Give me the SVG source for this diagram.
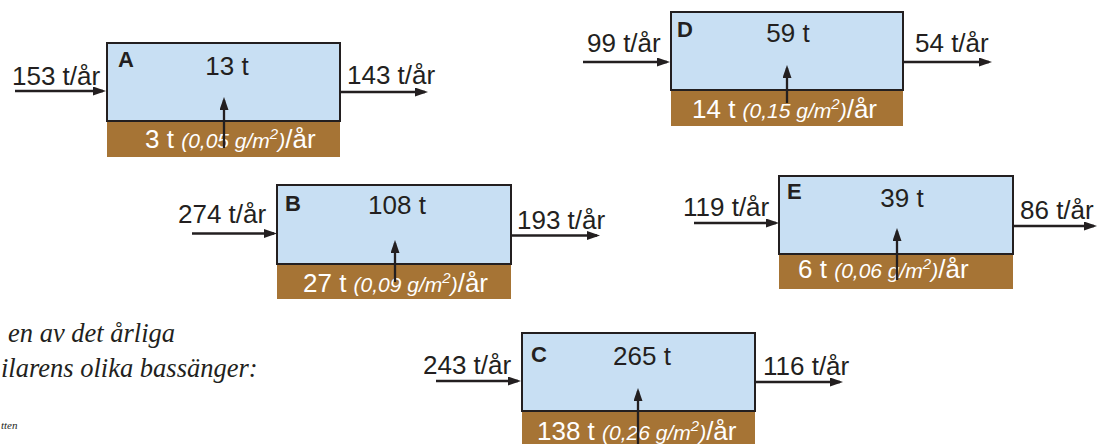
<svg xmlns="http://www.w3.org/2000/svg" width="1097" height="444" viewBox="0 0 1097 444">
<style>
.water{fill:#c8dff3;stroke:#231f20;stroke-width:2}
.sed{fill:#a67435}
.lbl{font-family:"Liberation Sans",Arial,sans-serif;font-size:26px;fill:#231f20}
.id{font-family:"Liberation Sans",Arial,sans-serif;font-size:22px;font-weight:bold;fill:#231f20}
.st{font-family:"Liberation Sans",Arial,sans-serif;font-size:26px;fill:#ffffff}
.it{font-style:italic;font-size:21px}
.sup{font-style:italic;font-size:15px}
.conn line{stroke:#231f20;stroke-width:2.3;marker-end:url(#ah)}
.cap{font-family:"Liberation Serif","Times New Roman",serif;font-style:italic;fill:#231f20}
</style>
<defs>
<marker id="ah" markerUnits="userSpaceOnUse" markerWidth="14" markerHeight="10" refX="10" refY="4.5" orient="auto">
<path d="M0,0 L13,4.5 L0,9 z" fill="#231f20"/>
</marker>
</defs>
<rect width="1097" height="444" fill="#ffffff"/>

<g id="caption">
<text class="cap" x="8" y="342" font-size="26.5">en av det årliga</text>
<text class="cap" x="1" y="377" font-size="26.5">ilarens olika bassänger:</text>
<text class="cap" x="1" y="429" font-size="11">tten</text>
</g>

<g id="nodeA">
<rect class="sed" x="107" y="121" width="233" height="36"/>
<rect class="water" x="107" y="43" width="233" height="78"/>
<text class="id" x="118" y="67">A</text>
<text class="lbl" x="227" y="75" text-anchor="middle">13 t</text>
<text class="lbl" x="12" y="85">153 t/år</text>
<text class="lbl" x="347" y="84">143 t/år</text>
<text class="st" x="145" y="148">3 t <tspan class="it">(0,05 g/m</tspan><tspan class="sup" dy="-9">2</tspan><tspan class="it" dy="9">)</tspan>/år</text>
</g>

<g id="nodeB">
<rect class="sed" x="277" y="264" width="234" height="35"/>
<rect class="water" x="277" y="185" width="234" height="79"/>
<text class="id" x="285" y="211">B</text>
<text class="lbl" x="397" y="214" text-anchor="middle">108 t</text>
<text class="lbl" x="178" y="223">274 t/år</text>
<text class="lbl" x="517" y="229">193 t/år</text>
<text class="st" x="303" y="292">27 t <tspan class="it">(0,09 g/m</tspan><tspan class="sup" dy="-9">2</tspan><tspan class="it" dy="9">)</tspan>/år</text>
</g>

<g id="nodeC">
<rect class="sed" x="522" y="411" width="233" height="40"/>
<rect class="water" x="522" y="333" width="233" height="78"/>
<text class="id" x="531" y="362">C</text>
<text class="lbl" x="642" y="365" text-anchor="middle">265 t</text>
<text class="lbl" x="423" y="374">243 t/år</text>
<text class="lbl" x="763" y="375">116 t/år</text>
<text class="st" x="537" y="440">138 t <tspan class="it">(0,26 g/m</tspan><tspan class="sup" dy="-9">2</tspan><tspan class="it" dy="9">)</tspan>/år</text>
</g>

<g id="nodeD">
<rect class="sed" x="671" y="90" width="232" height="36"/>
<rect class="water" x="671" y="12" width="232" height="78"/>
<text class="id" x="677" y="37">D</text>
<text class="lbl" x="788" y="42" text-anchor="middle">59 t</text>
<text class="lbl" x="587" y="52">99 t/år</text>
<text class="lbl" x="915" y="52">54 t/år</text>
<text class="st" x="692" y="118">14 t <tspan class="it">(0,15 g/m</tspan><tspan class="sup" dy="-9">2</tspan><tspan class="it" dy="9">)</tspan>/år</text>
</g>

<g id="nodeE">
<rect class="sed" x="779" y="254" width="234" height="35"/>
<rect class="water" x="779" y="176" width="234" height="78"/>
<text class="id" x="787" y="199">E</text>
<text class="lbl" x="902" y="207" text-anchor="middle">39 t</text>
<text class="lbl" x="683" y="216">119 t/år</text>
<text class="lbl" x="1020" y="219">86 t/år</text>
<text class="st" x="798" y="278">6 t <tspan class="it">(0,06 g/m</tspan><tspan class="sup" dy="-9">2</tspan><tspan class="it" dy="9">)</tspan>/år</text>
</g>

<g id="connectors" class="conn">
<line x1="15" y1="91" x2="103" y2="91"/>
<line x1="341" y1="92" x2="425" y2="92"/>
<line x1="224" y1="148" x2="224" y2="100"/>

<line x1="192" y1="233.5" x2="274" y2="233.5"/>
<line x1="512" y1="235.5" x2="597" y2="235.5"/>
<line x1="395" y1="282" x2="395" y2="243"/>

<line x1="436" y1="381" x2="518" y2="381"/>
<line x1="756" y1="382" x2="840" y2="382"/>
<line x1="638" y1="444" x2="638" y2="391"/>

<line x1="583" y1="62" x2="667" y2="62"/>
<line x1="904" y1="62" x2="989" y2="62"/>
<line x1="787" y1="103" x2="787" y2="68"/>

<line x1="694" y1="223" x2="776" y2="223"/>
<line x1="1014" y1="226" x2="1094" y2="226"/>
<line x1="897" y1="280" x2="897" y2="231"/>
</g>
</svg>
